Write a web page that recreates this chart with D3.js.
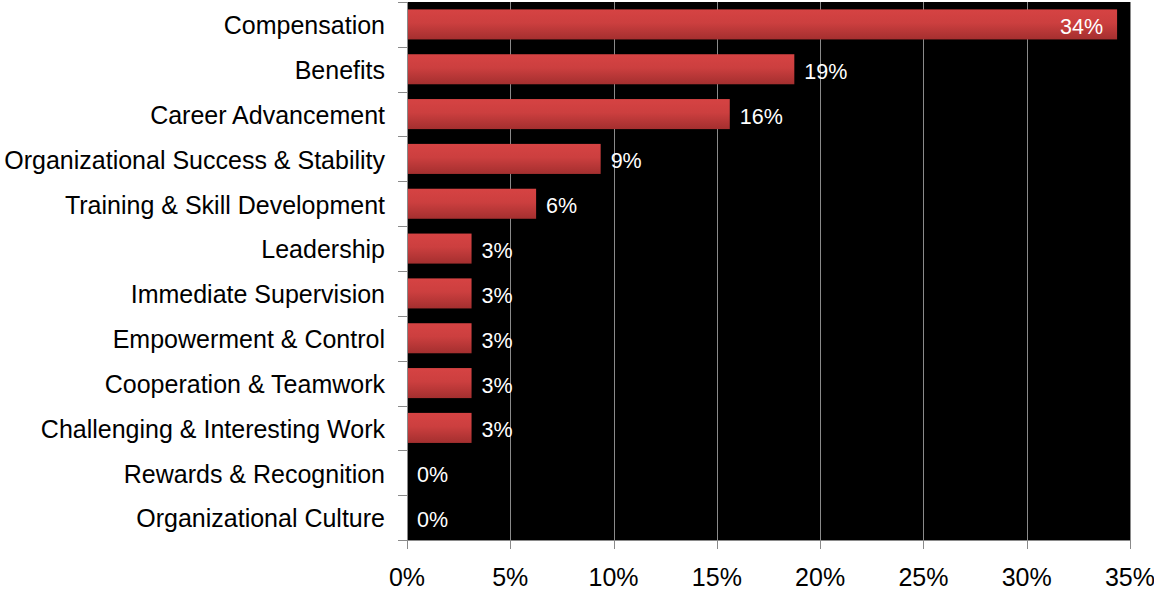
<!DOCTYPE html>
<html>
<head>
<meta charset="utf-8">
<script src="https://cdn.jsdelivr.net/npm/d3@7"></script>
<style>
  html, body { margin: 0; padding: 0; background: #fff; overflow: hidden; }
  svg { display: block; }
</style>
</head>
<body>
<svg id="chart" width="1154" height="592"></svg>
<script>
// Share of responses by factor (32 respondents)
const categories = [
  "Compensation",
  "Benefits",
  "Career Advancement",
  "Organizational Success & Stability",
  "Training & Skill Development",
  "Leadership",
  "Immediate Supervision",
  "Empowerment & Control",
  "Cooperation & Teamwork",
  "Challenging & Interesting Work",
  "Rewards & Recognition",
  "Organizational Culture"
];
const shares = [0.34375, 0.1875, 0.15625, 0.09375, 0.0625, 0.03125, 0.03125, 0.03125, 0.03125, 0.03125, 0, 0];
const xTicks = [0, 0.05, 0.10, 0.15, 0.20, 0.25, 0.30, 0.35];

const svg = d3.select("#chart");
const plot = { left: 407, right: 1130, top: 2, bottom: 540 };
const font = "'Liberation Sans', Arial, sans-serif";

const x = d3.scaleLinear().domain([0, 0.35]).range([plot.left, plot.right]);
const y = d3.scaleBand().domain(categories).range([plot.top, plot.bottom]).paddingInner(0.33).paddingOuter(0.165);
const pct = d3.format(".0%");

// bar gradient
const grad = svg.append("defs").append("linearGradient")
  .attr("id", "barFill").attr("x1", 0).attr("y1", 0).attr("x2", 0).attr("y2", 1);
grad.append("stop").attr("offset", "0%").attr("stop-color", "#d64343");
grad.append("stop").attr("offset", "45%").attr("stop-color", "#cc3f3f");
grad.append("stop").attr("offset", "100%").attr("stop-color", "#a42f2f");

// plot background
svg.append("rect")
  .attr("x", plot.left).attr("y", plot.top)
  .attr("width", plot.right - plot.left).attr("height", plot.bottom - plot.top)
  .attr("fill", "#000");

// vertical gridlines
svg.append("g").selectAll("line").data(xTicks.slice(1)).join("line")
  .attr("x1", d => Math.round(x(d)) + 0.5).attr("x2", d => Math.round(x(d)) + 0.5)
  .attr("y1", plot.top).attr("y2", plot.bottom)
  .attr("stroke", "#8a8a8a").attr("stroke-width", 1);

// bars
svg.append("g").selectAll("rect").data(categories).join("rect")
  .attr("x", x(0))
  .attr("y", d => y(d))
  .attr("width", (d, i) => x(shares[i]) - x(0))
  .attr("height", y.bandwidth())
  .attr("fill", "url(#barFill)");

// value labels
svg.append("g").selectAll("text").data(categories).join("text")
  .attr("x", (d, i) => i === 0 ? x(shares[i]) - 14 : x(shares[i]) + 10)
  .attr("y", d => y(d) + y.bandwidth() / 2 + 2)
  .attr("dy", "0.35em")
  .attr("text-anchor", (d, i) => i === 0 ? "end" : "start")
  .attr("fill", "#fff")
  .style("font-family", font).style("font-size", "21.5px")
  .text((d, i) => pct(shares[i]));

// left axis: ticks at band edges
const yAxis = svg.append("g");
yAxis.append("line")
  .attr("x1", plot.left + 0.5).attr("x2", plot.left + 0.5)
  .attr("y1", plot.top).attr("y2", plot.bottom)
  .attr("stroke", "#8a8a8a");
const edges = categories.map(d => y(d) - y.step() * y.paddingInner() / 2).concat([plot.bottom]);
yAxis.selectAll("line.tick").data(edges).join("line").attr("class", "tick")
  .attr("x1", plot.left - 9).attr("x2", plot.left)
  .attr("y1", d => Math.round(d) + 0.5).attr("y2", d => Math.round(d) + 0.5)
  .attr("stroke", "#8a8a8a");
yAxis.selectAll("text").data(categories).join("text")
  .attr("x", plot.left - 22)
  .attr("y", d => y(d) + y.bandwidth() / 2 + 1)
  .attr("dy", "0.35em")
  .attr("text-anchor", "end")
  .attr("fill", "#000")
  .style("font-family", font).style("font-size", "25px")
  .text(d => d);

// bottom axis
const xAxis = svg.append("g");
xAxis.append("line")
  .attr("x1", plot.left).attr("x2", plot.right)
  .attr("y1", plot.bottom + 0.5).attr("y2", plot.bottom + 0.5)
  .attr("stroke", "#8a8a8a");
xAxis.selectAll("line.tick").data(xTicks).join("line").attr("class", "tick")
  .attr("x1", d => Math.round(x(d)) + 0.5).attr("x2", d => Math.round(x(d)) + 0.5)
  .attr("y1", plot.bottom).attr("y2", plot.bottom + 9)
  .attr("stroke", "#8a8a8a");
xAxis.selectAll("text").data(xTicks).join("text")
  .attr("x", d => x(d))
  .attr("y", 586)
  .attr("text-anchor", "middle")
  .attr("fill", "#000")
  .style("font-family", font).style("font-size", "25px")
  .text(d => pct(d));
</script>
</body>
</html>
